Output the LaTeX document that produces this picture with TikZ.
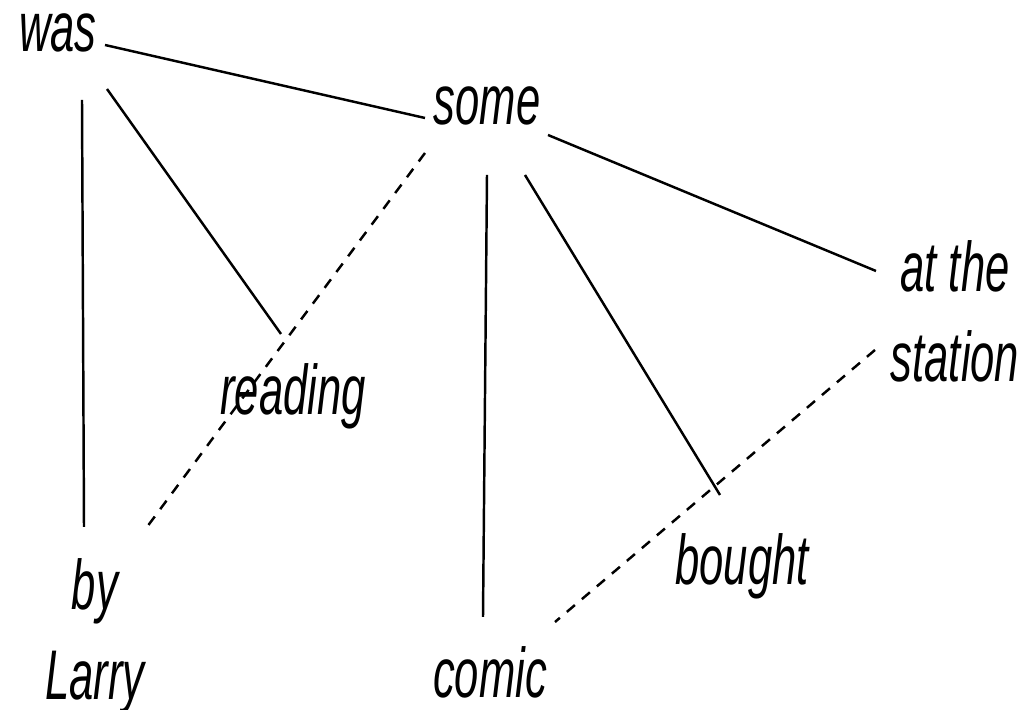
\documentclass[tikz,border=0pt]{standalone}
\usepackage{fontspec}
\setmainfont{Liberation Sans}[FakeStretch=0.62]
\usetikzlibrary{calc}
\tikzset{
  word/.style={
    inner sep=0pt, font=\fontsize{20}{25.5}\selectfont\itshape, align=center
  },
  link/.style={line width=0.7pt, draw=black},
  gaplink/.style={line width=0.7pt, draw=black, dash pattern=on 3pt off 2.6pt}
}

\begin{document}
\begin{tikzpicture}[x=0.01cm,y=-0.01cm]
    \useasboundingbox (0,0) rectangle (1035,710);

    \node[word,anchor=base] (was) at (58,52) {was};
    \node[word,anchor=base] (some) at (487,125) {some};
    \node[word,anchor=north] (place) at (955,240) {at the\\station};
    \node[word,anchor=base] (reading) at (293,415) {reading};
    \node[word,anchor=base] (bought) at (742,585) {bought};
    \node[word,anchor=north] (agent) at (95,558) {by\\Larry};
    \node[word,anchor=base] (comic) at (490,698) {comic};

    \draw[link] ($(was.base)+(47,-7)$) -- ($(some.base)+(-62,-7)$);
    \draw[link] ($(was.base)+(24,48)$) -- ($(agent.north)+(-11,-31)$);
    \draw[link] ($(was.base)+(49,37)$) -- ($(reading.base)+(-12,-81)$);
    \draw[gaplink] ($(some.base)+(-62,28)$) -- ($(reading.base)+(-37,-35)$)
      -- ($(agent.north)+(52,-31)$);

    \draw[link] ($(some.base)+(0,50)$) -- ($(comic.base)+(-7,-81)$);
    \draw[link] ($(some.base)+(38,50)$) -- ($(bought.base)+(-22,-90)$);
    \draw[link] ($(some.base)+(61,10)$) -- ($(place.north)+(-79,31)$);
    \draw[gaplink] ($(place.north)+(-80,110)$) -- ($(comic.base)+(65,-76)$);
  \end{tikzpicture}
\end{document}
